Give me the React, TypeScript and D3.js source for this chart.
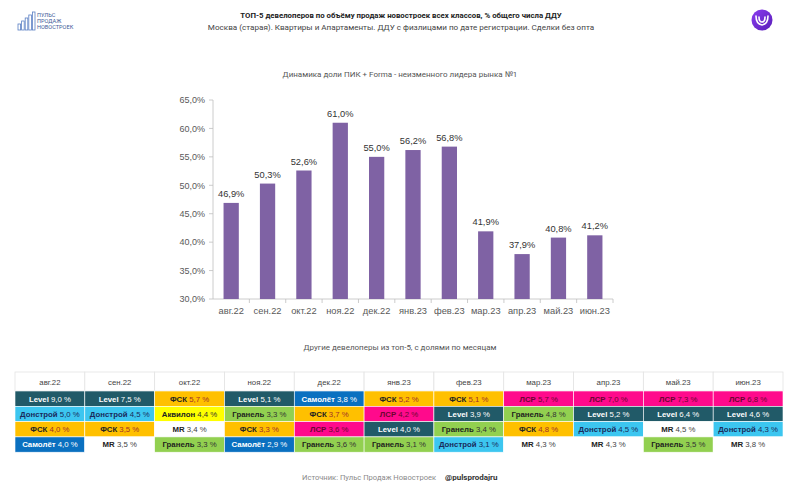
import React from "react";
import * as d3 from "d3";

const months = ["авг.22", "сен.22", "окт.22", "ноя.22", "дек.22", "янв.23", "фев.23", "мар.23", "апр.23", "май.23", "июн.23"];
const pikShare = [46.9, 50.3, 52.6, 61.0, 55.0, 56.2, 56.8, 41.9, 37.9, 40.8, 41.2];
const yTicks = [30, 35, 40, 45, 50, 55, 60, 65];

const rank1Dev = ["Level", "Level", "ФСК", "Level", "Самолёт", "ФСК", "ФСК", "ЛСР", "ЛСР", "ЛСР", "ЛСР"];
const rank1Val = [9.0, 7.5, 5.7, 5.1, 3.8, 5.2, 5.1, 5.7, 7.0, 7.3, 6.8];
const rank2Dev = ["Донстрой", "Донстрой", "Аквилон", "Гранель", "ФСК", "ЛСР", "Level", "Гранель", "Level", "Level", "Level"];
const rank2Val = [5.0, 4.5, 4.4, 3.3, 3.7, 4.2, 3.9, 4.8, 5.2, 6.4, 4.6];
const rank3Dev = ["ФСК", "ФСК", "MR", "ФСК", "ЛСР", "Level", "Гранель", "ФСК", "Донстрой", "MR", "Донстрой"];
const rank3Val = [4.0, 3.5, 3.4, 3.3, 3.6, 4.0, 3.4, 4.8, 4.5, 4.5, 4.3];
const rank4Dev = ["Самолёт", "MR", "Гранель", "Самолёт", "Гранель", "Гранель", "Донстрой", "MR", "MR", "Гранель", "MR"];
const rank4Val = [4.0, 3.5, 3.3, 2.9, 3.6, 3.1, 3.1, 4.3, 4.3, 3.5, 3.8];

const devStyle: Record<string, { bg: string; name: string; val: string }> = {
  "Level": { bg: "#215a68", name: "#ffffff", val: "#ffffff" },
  "Донстрой": { bg: "#3cc6f0", name: "#1a2a5a", val: "#1a2a5a" },
  "ФСК": { bg: "#ffc000", name: "#222222", val: "#a0302a" },
  "Аквилон": { bg: "#ffff00", name: "#222222", val: "#333333" },
  "Гранель": { bg: "#92d050", name: "#1e1e1e", val: "#333333" },
  "Самолёт": { bg: "#0a70c0", name: "#ffffff", val: "#ffffff" },
  "ЛСР": { bg: "#ff0a8c", name: "#6a0630", val: "#6a0630" },
  "MR": { bg: "#ffffff", name: "#222222", val: "#444444" },
};

const fmt = (v: number) => v.toFixed(1).replace(".", ",");

export default function App() {
  const W = 800, H = 495;
  const x = d3.scaleBand<string>().domain(months).range([213, 613]).paddingInner(0.58).paddingOuter(0.29);
  const xb = d3.scaleBand<string>().domain(months).range([213, 613]);
  const y = d3.scaleLinear().domain([30, 65]).range([299, 100]);

  const tx = d3.scaleBand<string>().domain(months).range([15, 783]);
  const rows = [
    [rank1Dev, rank1Val],
    [rank2Dev, rank2Val],
    [rank3Dev, rank3Val],
    [rank4Dev, rank4Val],
  ] as [string[], number[]][];
  const headTop = 372, headH = 19, rowH = 15.3;

  const font = "'Liberation Sans', Arial, sans-serif";
  const rob = "Roboto, 'Liberation Sans', sans-serif";

  return (
    <svg width={W} height={H} style={{ position: "absolute", left: 0, top: 0, background: "#fff" }}>
      <rect width={W} height={H} fill="#fff" />
      {/* left logo */}
      <g>
        {[0, 1, 2, 3, 4].map((i) => (
          <rect key={i} x={18 + i * 3.6} y={30 - (6 + i * 3)} width={2.6} height={6 + i * 3} fill="none" stroke="#5a7fc4" strokeWidth={0.8} />
        ))}
        <text x={37} y={17} fontFamily={rob} fontSize={5.6} fill="#3d5a99">ПУЛЬС</text>
        <text x={37} y={23} fontFamily={rob} fontSize={5.6} fill="#3d5a99">ПРОДАЖ</text>
        <text x={37} y={29} fontFamily={rob} fontSize={5.6} fill="#3d5a99">НОВОСТРОЕК</text>
      </g>
      {/* right logo */}
      <defs>
        <linearGradient id="lg" x1="0" y1="0" x2="1" y2="1">
          <stop offset="0%" stopColor="#8a3cf0" />
          <stop offset="100%" stopColor="#5a1fb8" />
        </linearGradient>
      </defs>
      <circle cx={762} cy={20} r={10.5} fill="url(#lg)" />
      <path d="M756,16 q0,8 6,9 q6,-1 6,-9 M759,17 q0,5 3,5 q3,0 3,-5" fill="none" stroke="#fff" strokeWidth={1.6} strokeLinecap="round" />

      <text x={401} y={18} textAnchor="middle" fontFamily={rob} fontSize={7.8} fontWeight="bold" fill="#222">ТОП-5 девелоперов по объёму продаж новостроек всех классов, % общего числа ДДУ</text>
      <text x={401} y={30} textAnchor="middle" fontFamily={rob} fontSize={8.1} fill="#444">Москва (старая). Квартиры и Апартаменты. ДДУ с физлицами по дате регистрации. Сделки без опта</text>

      <text x={400} y={77} textAnchor="middle" fontFamily={rob} fontSize={8} fill="#555">Динамика доли ПИК + Forma - неизменного лидера рынка №1</text>

      {/* y axis */}
      <line x1={213} x2={213} y1={100} y2={299} stroke="#bfbfbf" strokeWidth={0.8} />
      {yTicks.map((t) => (
        <g key={t}>
          <line x1={209} x2={213} y1={y(t)} y2={y(t)} stroke="#bfbfbf" strokeWidth={0.8} />
          <text x={205} y={y(t) + 3.3} textAnchor="end" fontFamily={font} fontSize={9} fill="#595959">{fmt(t)}%</text>
        </g>
      ))}
      {/* x axis */}
      <line x1={213} x2={613} y1={299} y2={299} stroke="#bfbfbf" strokeWidth={0.8} />
      {months.map((m) => (
        <line key={"t" + m} x1={(xb(m) as number) + xb.bandwidth()} x2={(xb(m) as number) + xb.bandwidth()} y1={299} y2={303} stroke="#bfbfbf" strokeWidth={0.8} />
      ))}
      {months.map((m, i) => {
        const cx = (x(m) as number) + x.bandwidth() / 2;
        return (
          <g key={m}>
            <rect x={x(m)} y={y(pikShare[i])} width={x.bandwidth()} height={299 - y(pikShare[i])} fill="#7f62a4" />
            <text x={cx} y={y(pikShare[i]) - 6} textAnchor="middle" fontFamily={font} fontSize={9.3} fill="#333">{fmt(pikShare[i])}%</text>
            <text x={cx} y={314} textAnchor="middle" fontFamily={font} fontSize={9.3} fill="#595959">{m}</text>
          </g>
        );
      })}

      <text x={400} y={350} textAnchor="middle" fontFamily={rob} fontSize={8} fill="#555">Другие девелоперы из топ-5, с долями по месяцам</text>

      {/* table header */}
      {months.map((m) => (
        <g key={"h" + m}>
          <rect x={tx(m)} y={headTop} width={tx.bandwidth()} height={headH} fill="#fff" stroke="#e3e3e3" strokeWidth={0.8} />
          <text x={(tx(m) as number) + tx.bandwidth() / 2} y={headTop + 12.5} textAnchor="middle" fontFamily={font} fontSize={7.8} fill="#444">{m}</text>
        </g>
      ))}
      {rows.map(([devs, vals], r) =>
        months.map((m, i) => {
          const st = devStyle[devs[i]];
          const top = headTop + headH + r * rowH;
          return (
            <g key={"c" + r + m}>
              <rect x={tx(m)} y={top} width={tx.bandwidth()} height={rowH} fill={st.bg} stroke="#ffffff" strokeWidth={0.6} />
              <text x={(tx(m) as number) + tx.bandwidth() / 2} y={top + 10.5} textAnchor="middle" fontFamily={font} fontSize={7.8}>
                <tspan fontWeight="bold" fill={st.name}>{devs[i]}</tspan>
                <tspan fill={st.val}>{"\u00a0" + fmt(vals[i]) + "\u00a0%"}</tspan>
              </text>
            </g>
          );
        })
      )}

      <text x={302} y={480} fontFamily={rob} fontSize={7.6} fill="#8a8a8a">Источник: Пульс Продаж Новостроек</text>
      <text x={445} y={480} fontFamily={rob} fontSize={8} fill="#333" fontWeight="bold">@pulsprodajru</text>
    </svg>
  );
}
